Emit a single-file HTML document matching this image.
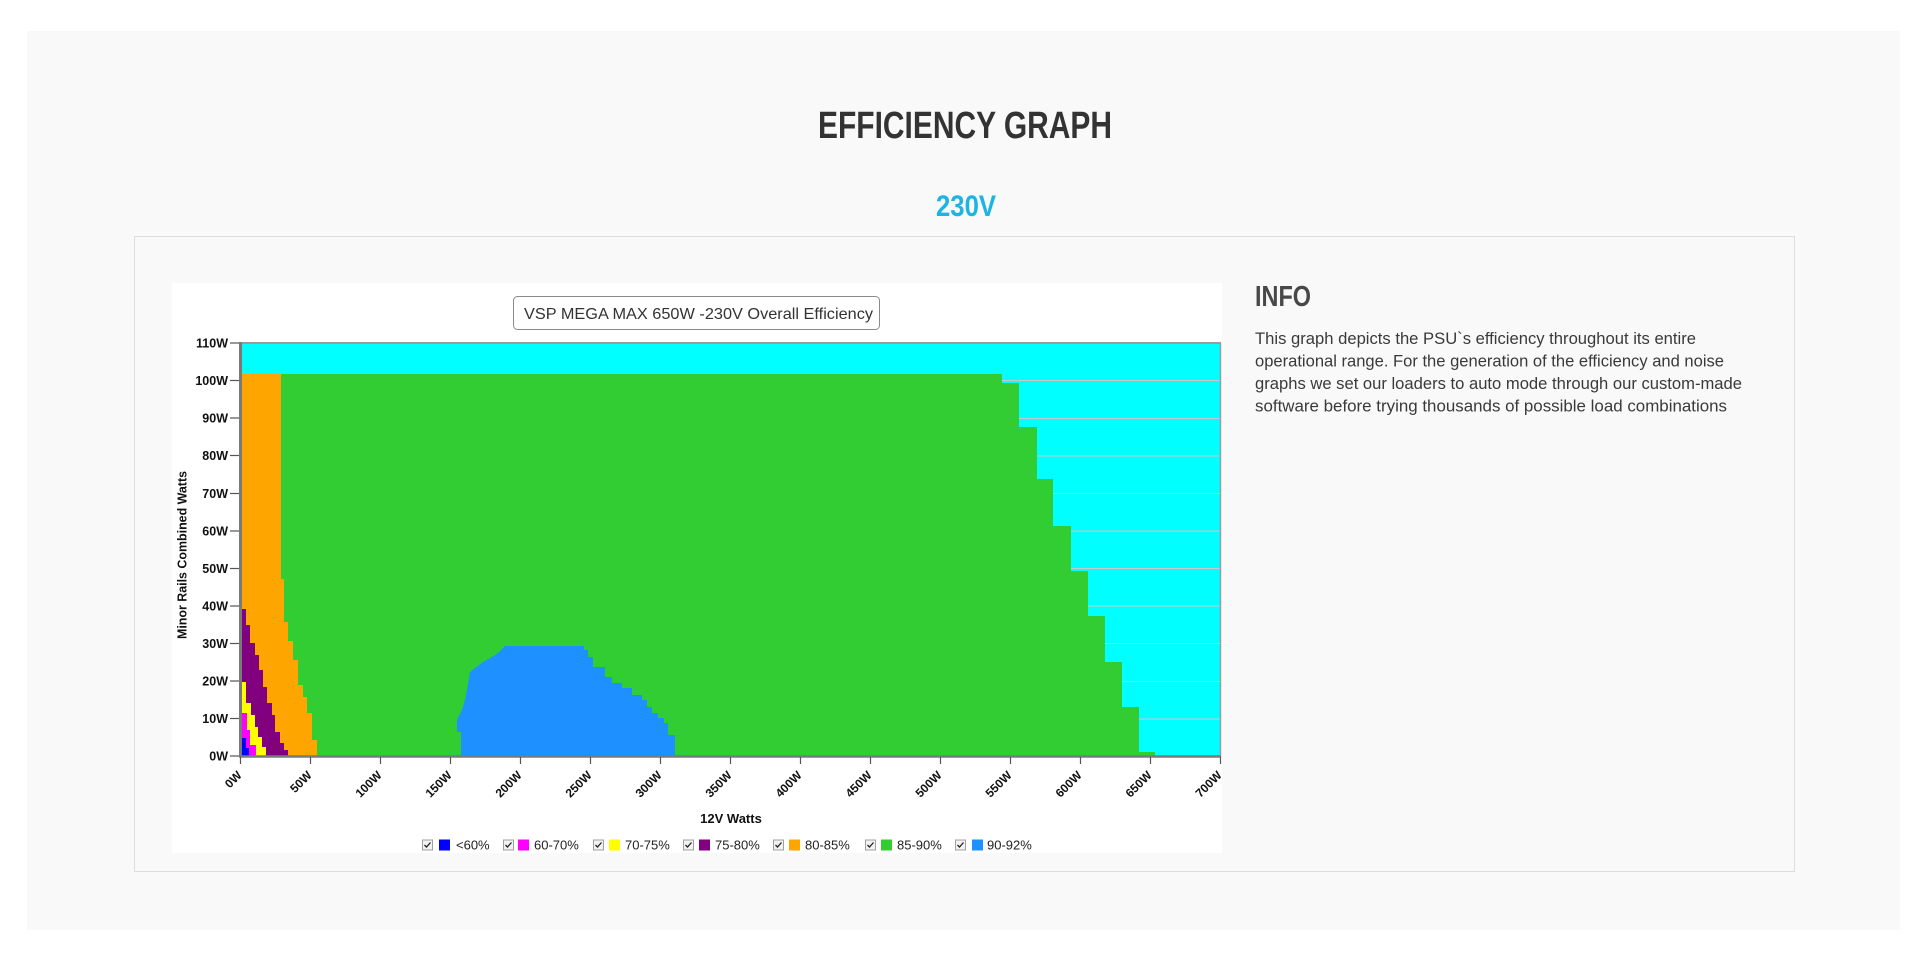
<!DOCTYPE html>
<html>
<head>
<meta charset="utf-8">
<style>
  html, body { margin: 0; padding: 0; background: #ffffff; }
  body { width: 1920px; height: 959px; overflow: hidden; }
  svg { display: block; }
  .sans { font-family: "Liberation Sans", Arial, sans-serif; }
</style>
</head>
<body>
<svg width="1920" height="959" viewBox="0 0 1920 959" xmlns="http://www.w3.org/2000/svg" class="sans">
  <!-- outer panel -->
  <rect x="27" y="31" width="1873" height="899" fill="#f9f9f9"/>

  <!-- headings -->
  <text x="818" y="138" font-size="38" font-weight="bold" fill="#333333" textLength="294" lengthAdjust="spacingAndGlyphs">EFFICIENCY GRAPH</text>
  <text x="936" y="216" font-size="30" font-weight="bold" fill="#1cb4e3" textLength="60" lengthAdjust="spacingAndGlyphs">230V</text>

  <!-- inner box -->
  <rect x="134.5" y="236.5" width="1660" height="635" fill="#f9f9f9" stroke="#dddddd" stroke-width="1"/>

  <!-- INFO -->
  <text x="1255" y="306" font-size="29" font-weight="bold" fill="#484848" textLength="56" lengthAdjust="spacingAndGlyphs">INFO</text>
  <g font-size="16.5" fill="#3a3a3a">
    <text x="1255" y="344" textLength="441" lengthAdjust="spacingAndGlyphs">This graph depicts the PSU`s efficiency throughout its entire</text>
    <text x="1255" y="366.5" textLength="469" lengthAdjust="spacingAndGlyphs">operational range. For the generation of the efficiency and noise</text>
    <text x="1255" y="389" textLength="487" lengthAdjust="spacingAndGlyphs">graphs we set our loaders to auto mode through our custom-made</text>
    <text x="1255" y="411.5" textLength="472" lengthAdjust="spacingAndGlyphs">software before trying thousands of possible load combinations</text>
  </g>

  <!-- chart image background -->
  <rect x="172" y="283" width="1050" height="570" fill="#ffffff"/>

  <!-- chart title box -->
  <rect x="513.5" y="296.5" width="366" height="33" rx="4" ry="4" fill="#ffffff" stroke="#8a8a8a" stroke-width="1"/>
  <text x="524" y="319" font-size="16" fill="#333333" textLength="349" lengthAdjust="spacingAndGlyphs">VSP MEGA MAX 650W -230V Overall Efficiency</text>

  <!-- plot background -->
  <rect x="242" y="344" width="978" height="412" fill="#00ffff"/>

  <!-- gridlines -->
  <g stroke="#c8c8c8" stroke-width="1">
    <line x1="242" x2="1220" y1="380.5" y2="380.5"/>
    <line x1="242" x2="1220" y1="418.5" y2="418.5"/>
    <line x1="242" x2="1220" y1="456" y2="456"/>
    <line x1="242" x2="1220" y1="493.5" y2="493.5"/>
    <line x1="242" x2="1220" y1="531" y2="531"/>
    <line x1="242" x2="1220" y1="568.5" y2="568.5"/>
    <line x1="242" x2="1220" y1="606" y2="606"/>
    <line x1="242" x2="1220" y1="643.5" y2="643.5"/>
    <line x1="242" x2="1220" y1="681.5" y2="681.5"/>
    <line x1="242" x2="1220" y1="719" y2="719"/>
  </g>

  <!-- 85-90% green -->
  <polygon fill="#32cd32" points="242,374 1002,374 1002,383 1019,383 1019,427 1037,427 1037,479 1053,479 1053,526 1071,526 1071,571 1088,571 1088,616 1105,616 1105,662 1122,662 1122,707 1139,707 1139,752 1155,752 1155,756 242,756"/>

  <!-- 80-85% orange -->
  <polygon fill="#ffa500" points="242,374 281,374 281,579 284,579 284,622 288,622 288,641 293,641 293,660 298,660 298,685 303,685 303,697 307,697 307,713 312,713 312,740 317,740 317,756 242,756"/>

  <!-- 75-80% purple -->
  <polygon fill="#800080" points="242,609 246,609 246,625 250,625 250,643 255,643 255,655 259,655 259,670 263,670 263,687 267,687 267,703 272,703 272,715 275,715 275,732 280,732 280,743 284,743 284,750 288,750 288,756 242,756"/>

  <!-- 70-75% yellow -->
  <polygon fill="#ffff00" points="242,682 246,682 246,703 251,703 251,715 255,715 255,727 258,727 258,737 262,737 262,747 266,747 266,756 242,756"/>

  <!-- 60-70% magenta -->
  <polygon fill="#ff00ff" points="242,713 247,713 247,730 250,730 250,745 256,745 256,756 242,756"/>

  <!-- <60% blue -->
  <polygon fill="#0000ff" points="242,738 246,738 246,748 249,748 249,756 242,756"/>

  <!-- 90-92% dodgerblue -->
  <polygon fill="#1e90ff" points="461,756 461,732 457,732 457,720 462,710 465,700 467,690 470,672 475,668 483,662 492,657 498,653 505,646 584,646 584,650 588,650 588,657 593,657 593,667 605,667 605,677 612,677 612,683 622,683 622,688 632,688 632,695 642,695 642,700 647,700 647,707 652,707 652,713 658,713 658,718 664,718 664,723 668,723 668,735 675,735 675,756"/>

  <!-- plot frame -->
  <line x1="240" y1="343" x2="1221" y2="343" stroke="#9a9a9a" stroke-width="2"/>
  <line x1="1220.5" y1="343" x2="1220.5" y2="757" stroke="#9a9a9a" stroke-width="1.5"/>
  <line x1="240.5" y1="342" x2="240.5" y2="757" stroke="#7a7a7a" stroke-width="3"/>
  <line x1="239" y1="756.5" x2="1221" y2="756.5" stroke="#7a7a7a" stroke-width="2.5"/>

  <!-- y ticks -->
  <g stroke="#555555" stroke-width="1.2">
    <line x1="230" x2="239" y1="756" y2="756"/>
    <line x1="230" x2="239" y1="718.5" y2="718.5"/>
    <line x1="230" x2="239" y1="681" y2="681"/>
    <line x1="230" x2="239" y1="643.5" y2="643.5"/>
    <line x1="230" x2="239" y1="606" y2="606"/>
    <line x1="230" x2="239" y1="568.5" y2="568.5"/>
    <line x1="230" x2="239" y1="531" y2="531"/>
    <line x1="230" x2="239" y1="493.5" y2="493.5"/>
    <line x1="230" x2="239" y1="455.5" y2="455.5"/>
    <line x1="230" x2="239" y1="418" y2="418"/>
    <line x1="230" x2="239" y1="380.5" y2="380.5"/>
    <line x1="230" x2="239" y1="343" y2="343"/>
  </g>

  <!-- y labels -->
  <g font-size="12.5" font-weight="bold" fill="#111111" text-anchor="end">
    <text x="228" y="760.5">0W</text>
    <text x="228" y="723">10W</text>
    <text x="228" y="685.5">20W</text>
    <text x="228" y="648">30W</text>
    <text x="228" y="610.5">40W</text>
    <text x="228" y="573">50W</text>
    <text x="228" y="535.5">60W</text>
    <text x="228" y="498">70W</text>
    <text x="228" y="460">80W</text>
    <text x="228" y="422.5">90W</text>
    <text x="228" y="385">100W</text>
    <text x="228" y="347.5">110W</text>
  </g>

  <!-- x ticks -->
  <g stroke="#555555" stroke-width="1.2">
    <line x1="240.5" x2="240.5" y1="757" y2="764"/>
    <line x1="310.5" x2="310.5" y1="757" y2="764"/>
    <line x1="380.5" x2="380.5" y1="757" y2="764"/>
    <line x1="450.5" x2="450.5" y1="757" y2="764"/>
    <line x1="520.5" x2="520.5" y1="757" y2="764"/>
    <line x1="590.5" x2="590.5" y1="757" y2="764"/>
    <line x1="660.5" x2="660.5" y1="757" y2="764"/>
    <line x1="730.5" x2="730.5" y1="757" y2="764"/>
    <line x1="800.5" x2="800.5" y1="757" y2="764"/>
    <line x1="870.5" x2="870.5" y1="757" y2="764"/>
    <line x1="940.5" x2="940.5" y1="757" y2="764"/>
    <line x1="1010.5" x2="1010.5" y1="757" y2="764"/>
    <line x1="1080.5" x2="1080.5" y1="757" y2="764"/>
    <line x1="1150.5" x2="1150.5" y1="757" y2="764"/>
    <line x1="1220.5" x2="1220.5" y1="757" y2="764"/>
  </g>

  <!-- x labels -->
  <g font-size="12" font-weight="bold" fill="#111111" text-anchor="end">
    <text x="242.5" y="776" transform="rotate(-45 242.5 776)">0W</text>
    <text x="312.5" y="776" transform="rotate(-45 312.5 776)">50W</text>
    <text x="382.5" y="776" transform="rotate(-45 382.5 776)">100W</text>
    <text x="452.5" y="776" transform="rotate(-45 452.5 776)">150W</text>
    <text x="522.5" y="776" transform="rotate(-45 522.5 776)">200W</text>
    <text x="592.5" y="776" transform="rotate(-45 592.5 776)">250W</text>
    <text x="662.5" y="776" transform="rotate(-45 662.5 776)">300W</text>
    <text x="732.5" y="776" transform="rotate(-45 732.5 776)">350W</text>
    <text x="802.5" y="776" transform="rotate(-45 802.5 776)">400W</text>
    <text x="872.5" y="776" transform="rotate(-45 872.5 776)">450W</text>
    <text x="942.5" y="776" transform="rotate(-45 942.5 776)">500W</text>
    <text x="1012.5" y="776" transform="rotate(-45 1012.5 776)">550W</text>
    <text x="1082.5" y="776" transform="rotate(-45 1082.5 776)">600W</text>
    <text x="1152.5" y="776" transform="rotate(-45 1152.5 776)">650W</text>
    <text x="1222.5" y="776" transform="rotate(-45 1222.5 776)">700W</text>
  </g>

  <!-- axis titles -->
  <text x="731" y="823" font-size="13" font-weight="bold" fill="#111111" text-anchor="middle">12V Watts</text>
  <text x="0" y="0" font-size="12.5" font-weight="bold" fill="#111111" text-anchor="middle" transform="translate(186.5 555) rotate(-90)" textLength="168" lengthAdjust="spacingAndGlyphs">Minor Rails Combined Watts</text>

  <!-- legend -->
  <g>
    <!-- item helper: checkbox at cb, square at cb+16, text at cb+32 -->
    <g transform="translate(422 839.5)">
      <rect x="0.5" y="0.5" width="10" height="10" fill="#f2f2f2" stroke="#a0a0a0"/>
      <polyline points="2.5,5.5 4.5,7.5 8.5,3" fill="none" stroke="#222" stroke-width="1.3"/>
      <rect x="17" y="0" width="11" height="11" fill="#0000ff"/>
      <text x="34" y="10" font-size="13" fill="#222">&lt;60%</text>
    </g>
    <g transform="translate(503 839.5)">
      <rect x="0.5" y="0.5" width="10" height="10" fill="#f2f2f2" stroke="#a0a0a0"/>
      <polyline points="2.5,5.5 4.5,7.5 8.5,3" fill="none" stroke="#222" stroke-width="1.3"/>
      <rect x="15" y="0" width="11" height="11" fill="#ff00ff"/>
      <text x="31" y="10" font-size="13" fill="#222">60-70%</text>
    </g>
    <g transform="translate(593 839.5)">
      <rect x="0.5" y="0.5" width="10" height="10" fill="#f2f2f2" stroke="#a0a0a0"/>
      <polyline points="2.5,5.5 4.5,7.5 8.5,3" fill="none" stroke="#222" stroke-width="1.3"/>
      <rect x="16" y="0" width="11" height="11" fill="#ffff00"/>
      <text x="32" y="10" font-size="13" fill="#222">70-75%</text>
    </g>
    <g transform="translate(683 839.5)">
      <rect x="0.5" y="0.5" width="10" height="10" fill="#f2f2f2" stroke="#a0a0a0"/>
      <polyline points="2.5,5.5 4.5,7.5 8.5,3" fill="none" stroke="#222" stroke-width="1.3"/>
      <rect x="16" y="0" width="11" height="11" fill="#800080"/>
      <text x="32" y="10" font-size="13" fill="#222">75-80%</text>
    </g>
    <g transform="translate(773 839.5)">
      <rect x="0.5" y="0.5" width="10" height="10" fill="#f2f2f2" stroke="#a0a0a0"/>
      <polyline points="2.5,5.5 4.5,7.5 8.5,3" fill="none" stroke="#222" stroke-width="1.3"/>
      <rect x="16" y="0" width="11" height="11" fill="#ffa500"/>
      <text x="32" y="10" font-size="13" fill="#222">80-85%</text>
    </g>
    <g transform="translate(865 839.5)">
      <rect x="0.5" y="0.5" width="10" height="10" fill="#f2f2f2" stroke="#a0a0a0"/>
      <polyline points="2.5,5.5 4.5,7.5 8.5,3" fill="none" stroke="#222" stroke-width="1.3"/>
      <rect x="16" y="0" width="11" height="11" fill="#32cd32"/>
      <text x="32" y="10" font-size="13" fill="#222">85-90%</text>
    </g>
    <g transform="translate(955 839.5)">
      <rect x="0.5" y="0.5" width="10" height="10" fill="#f2f2f2" stroke="#a0a0a0"/>
      <polyline points="2.5,5.5 4.5,7.5 8.5,3" fill="none" stroke="#222" stroke-width="1.3"/>
      <rect x="17" y="0" width="11" height="11" fill="#1e90ff"/>
      <text x="32" y="10" font-size="13" fill="#222">90-92%</text>
    </g>
  </g>
</svg>
</body>
</html>
